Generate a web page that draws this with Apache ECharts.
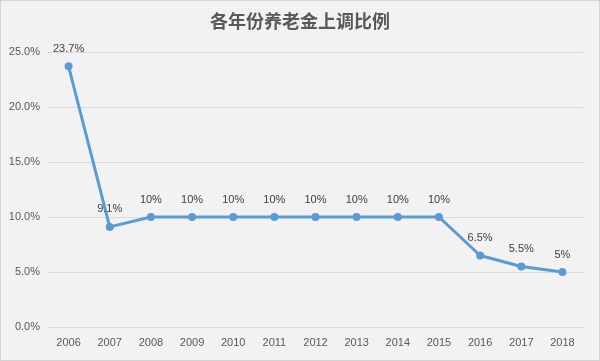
<!DOCTYPE html>
<html><head><meta charset="utf-8">
<script src="https://cdn.jsdelivr.net/npm/echarts@6/dist/echarts.min.js"></script>
<style>html,body{margin:0;padding:0;background:#fff}#c{width:600px;height:361px;box-sizing:border-box;border:1px solid #d4d4d4;background:#f2f2f2}</style>
</head><body><div id="c"></div>
<script>
const categories = ['2006','2007','2008','2009','2010','2011','2012','2013','2014','2015','2016','2017','2018'];
const values = [23.7, 9.1, 10, 10, 10, 10, 10, 10, 10, 10, 6.5, 5.5, 5];
const yTicks = [0, 5, 10, 15, 20, 25];
const titleText = '各年份养老金上调比例';

const chart = echarts.init(document.getElementById('c'), null, {renderer:'canvas'});
chart.setOption({
  backgroundColor: '#f2f2f2',
  animation: false,
  title: {text: titleText, left: 'center', top: 6,
    textStyle: {fontFamily: 'Noto Sans CJK SC', fontWeight: 'bold', fontSize: 18, color: '#595959'}},
  grid: {left: 47, right: 16, top: 51, bottom: 33},
  xAxis: {type: 'category', data: categories, boundaryGap: true,
    axisLine: {show: false}, axisTick: {show: false},
    axisLabel: {color: '#595959', fontSize: 11, fontFamily: 'Liberation Sans', margin: 10}},
  yAxis: {type: 'value', min: yTicks[0], max: yTicks[yTicks.length-1], interval: 5,
    axisLine: {show: false}, axisTick: {show: false},
    splitLine: {lineStyle: {color: '#d9d9d9', width: 1}},
    axisLabel: {color: '#595959', fontSize: 11, fontFamily: 'Liberation Sans', margin: 8,
      formatter: v => v.toFixed(1) + '%'}},
  series: [{type: 'line', data: values, symbol: 'circle', symbolSize: 8,
    lineStyle: {color: '#5b9bd5', width: 3}, itemStyle: {color: '#5b9bd5'},
    label: {show: true, position: 'top', distance: 8, color: '#404040', fontSize: 11,
      fontFamily: 'Liberation Sans', formatter: p => p.value + '%'}}]
});
</script></body></html>
